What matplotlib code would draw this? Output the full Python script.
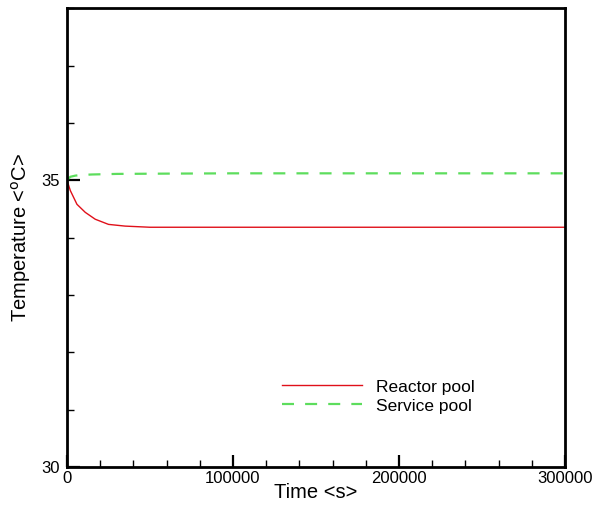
import matplotlib
matplotlib.use("Agg")
import matplotlib.pyplot as plt
from matplotlib.ticker import MultipleLocator, FixedLocator

plt.rcParams['font.family'] = ['Liberation Sans', 'DejaVu Sans']

# Data
reactor_time = [0, 2000, 6000, 11000, 17000, 25000, 35000, 50000, 70000, 100000, 150000, 200000, 250000, 300000]
reactor_temp = [35.0, 34.82, 34.58, 34.44, 34.32, 34.23, 34.20, 34.18, 34.18, 34.18, 34.18, 34.18, 34.18, 34.18]

service_time = [0, 2000, 5000, 8000, 15000, 30000, 60000, 100000, 200000, 300000]
service_temp = [35.0, 35.06, 35.08, 35.09, 35.10, 35.11, 35.115, 35.12, 35.12, 35.12]

x_major = [0, 100000, 200000, 300000]
y_major = [30, 35]

fig = plt.figure(figsize=(5.96, 5.09), dpi=100)
ax = fig.add_axes([0.1124, 0.0825, 0.8356, 0.9015])

ax.plot(reactor_time, reactor_temp, color='#e0101a', lw=1.0, label='Reactor pool')
ax.plot(service_time, service_temp, color='#5ddd5d', lw=1.6, ls=(0, (5.4, 5.0)), label='Service pool')

ax.set_xlim(0, 300000)
ax.set_ylim(30, 38)
ax.xaxis.set_major_locator(FixedLocator(x_major))
ax.xaxis.set_minor_locator(MultipleLocator(20000))
ax.yaxis.set_major_locator(FixedLocator(y_major))
ax.yaxis.set_minor_locator(MultipleLocator(1))
ax.set_xticklabels([str(v) for v in x_major])
ax.set_yticklabels([str(v) for v in y_major])

ax.tick_params(which='major', direction='in', length=9, width=1.6, labelsize=12, pad=3)
ax.tick_params(axis='y', which='major', pad=5)
ax.tick_params(which='minor', direction='in', length=5, width=1.0)
ax.tick_params(top=False, right=False, which='both')
for s in ax.spines.values():
    s.set_linewidth(2.0)

ax.set_xlabel('Time <s>', fontsize=14.5, labelpad=-2)
ax.set_ylabel('Temperature <$^{\\rm o}$C>', fontsize=14.5, labelpad=6)

leg = ax.legend(loc='upper left', bbox_to_anchor=(0.40, 0.225), frameon=False,
                fontsize=12.5, handlelength=4.6, handletextpad=0.8, labelspacing=0.22)

fig.savefig('out.png', dpi=100)
